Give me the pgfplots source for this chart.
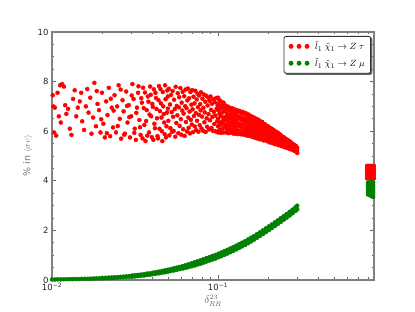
\documentclass[border=0pt]{standalone}
\usepackage{fontspec}
\setmainfont{DejaVu Sans}
\usepackage{pgfplots}
\pgfplotsset{compat=1.18}
\definecolor{mplred}{RGB}{255,0,0}
\definecolor{mplgreen}{RGB}{0,128,0}
\pgfdeclarelayer{background}
\pgfsetlayers{background,main}

\begin{document}
\begin{tikzpicture}
\path[use as bounding box] (-52pt,-32pt) rectangle (363pt,280pt);
\begin{axis}[
  at={(0pt,0pt)}, anchor=south west,
  width=322pt, height=248pt, scale only axis,
  xmode=log, xmin=0.01, xmax=0.87,
  ymin=0, ymax=10,
  xtick={0.01,0.1},
  xticklabels={10\textsuperscript{−2},10\textsuperscript{−1}},
  minor xtick={0.02,0.03,0.04,0.05,0.06,0.07,0.08,0.09,0.2,0.3,0.4,0.5,0.6,0.7,0.8},
  ytick={0,2,4,6,8,10}, minor y tick num=3,
  tick align=inside,
  axis line style={black!50, line width=1.2pt},
  tick style={black!60, line width=0.6pt},
  major tick length=4.5pt, minor tick length=2.5pt,
  tick label style={font=\fontsize{8.5}{10}\selectfont, black!85},
  /pgf/number format/assume math mode=true,
  xlabel={$\delta^{23}_{RR}$},
  ylabel={\% in $\langle\sigma v\rangle$},
  xlabel style={at={(axis description cs:0.5,-0.085)}, anchor=center, black!60, font=\fontsize{10.5}{12}\selectfont},
  ylabel style={at={(axis description cs:-0.075,0.5)}, anchor=center, black!55, font=\fontsize{9.5}{11}\selectfont},
  legend style={name=leg, at={(1,1)}, anchor=north east, xshift=-3pt, yshift=-4pt,
    draw=black!80, line width=0.8pt, rounded corners=2pt, fill=white,
    font=\fontsize{9.5}{11}\selectfont, cells={anchor=west},
    row sep=3pt, inner xsep=4pt, inner ysep=3pt},
  legend image code/.code={%
    \pgfpathrectangle{\pgfpoint{-3pt}{-2pt}}{\pgfpoint{25pt}{4pt}}\pgfusepath{use as bounding box}%
    \draw[#1, /tikz/only marks] plot coordinates {(0pt,0pt) (8pt,0pt) (16pt,0pt)};},
]

\addplot[only marks, mark=*, mark size=2pt, color=mplred] coordinates {
% left, sparse part of the red band
(0.0101,7.45) (0.0102,7.0) (0.0104,6.95) (0.0103,5.95) (0.0106,5.82) (0.0108,7.55)
(0.0112,7.85) (0.0115,7.9) (0.0118,7.8) (0.0113,6.35) (0.0110,6.6) (0.0120,7.05)
(0.0122,6.7) (0.0125,6.9) (0.0128,6.1) (0.0131,5.85) (0.0134,7.3) (0.0137,7.65)
(0.0140,6.6) (0.0143,6.95) (0.0147,7.2) (0.0150,7.55) (0.0152,6.4) (0.0156,6.05)
(0.0160,7.0) (0.0163,7.7) (0.0166,6.75) (0.0170,7.35) (0.0173,5.9) (0.0177,6.55)
(0.0180,7.95) (0.0184,6.2) (0.0188,7.1) (0.0192,6.85) (0.0196,5.95) (0.0200,7.55)
(0.0204,6.3) (0.0208,5.75) (0.0212,7.2) (0.0216,6.65) (0.0220,7.75) (0.0224,5.8)
(0.0229,6.95) (0.0233,6.15) (0.0238,7.45) (0.0243,5.95) (0.0247,7.0) (0.0252,7.85)
(0.0256,6.5) (0.0261,5.7) (0.0266,7.25) (0.0270,6.8) (0.0275,5.9) (0.0280,7.6)
(0.0285,6.35) (0.0290,7.05) (0.0295,5.75) (0.0300,6.6) (0.0305,7.9) (0.0310,7.3)
(0.0315,6.1) (0.0320,5.65) (0.0325,6.95) (0.0330,7.55) (0.0336,6.45) (0.0342,5.85)
(0.0348,7.15) (0.0354,7.75) (0.0360,6.25) (0.0366,5.6) (0.0372,6.85) (0.0378,7.4)
(0.0384,5.95) (0.0390,7.8) (0.0396,6.6) (0.0402,7.1) (0.0408,5.65) (0.0414,6.3)
(0.0420,7.55) (0.0426,6.9) (0.0432,5.8) (0.0438,7.25) (0.0444,6.1) (0.0450,7.7)
(0.0456,6.55) (0.0462,5.6) (0.0468,7.0) (0.0474,6.35) (0.0480,7.85) (0.0486,5.75)
(0.0492,6.75) (0.0498,7.4)
(0.0186,7.62) (0.0198,6.48) (0.0214,5.92) (0.0226,7.31) (0.0235,6.83) (0.0249,6.21)
(0.0259,7.68) (0.0272,5.86) (0.0283,7.02) (0.0292,6.57) (0.0302,7.44) (0.0313,5.93)
(0.0322,6.74) (0.0332,7.81) (0.0339,6.16) (0.0345,7.33) (0.0351,5.71) (0.0357,6.93)
(0.0363,7.56) (0.0369,6.41) (0.0375,5.82) (0.0381,7.19) (0.0387,6.67) (0.0393,7.47)
(0.0399,5.76) (0.0405,6.98) (0.0411,7.69) (0.0417,6.12) (0.0423,7.34) (0.0429,6.52)
(0.0435,5.71) (0.0441,7.82) (0.0447,6.81) (0.0453,7.12) (0.0459,6.0) (0.0465,7.58)
(0.0471,6.69) (0.0477,5.88) (0.0483,7.29) (0.0489,6.2) (0.0495,7.64) (0.0499,6.91)
% middle part
(0.0502,6.42) (0.0506,7.71) (0.0509,5.83) (0.0514,7.08) (0.0517,6.12) (0.0521,7.46)
(0.0526,6.77) (0.0528,5.97) (0.0533,7.62) (0.0536,6.58) (0.0541,6.01) (0.0544,7.27)
(0.0549,6.89) (0.0553,5.78) (0.0556,7.79) (0.0561,6.33) (0.0564,7.02) (0.0569,6.64)
(0.0572,7.53) (0.0577,5.92) (0.0581,6.96) (0.0584,7.37) (0.0588,6.21) (0.0593,7.74)
(0.0597,6.49) (0.0601,5.86) (0.0604,7.15) (0.0609,6.83) (0.0613,7.59) (0.0617,6.08)
(0.0621,6.71) (0.0626,7.41) (0.0629,5.81) (0.0634,7.01) (0.0638,7.68) (0.0641,6.37)
(0.0646,6.93) (0.0650,5.99) (0.0654,7.24) (0.0658,7.72) (0.0662,6.55) (0.0666,6.14)
(0.0670,7.33) (0.0674,6.79) (0.0678,5.91) (0.0682,7.58) (0.0686,6.46) (0.0691,7.07)
(0.0695,6.27) (0.0698,7.66) (0.0703,6.88) (0.0707,5.96) (0.0712,7.39) (0.0716,6.61)
(0.0721,7.12) (0.0725,6.19) (0.0730,7.63) (0.0735,6.73) (0.0739,6.04) (0.0744,7.28)
(0.0748,6.42) (0.0753,7.51) (0.0757,6.97) (0.0762,5.98) (0.0767,6.66) (0.0771,7.44)
(0.0776,6.24) (0.0781,7.09) (0.0786,6.84) (0.0790,7.57) (0.0795,6.11) (0.0801,6.59)
(0.0806,7.31) (0.0811,6.02) (0.0816,6.94) (0.0822,7.48) (0.0827,6.36) (0.0832,6.76)
(0.0838,7.19) (0.0843,5.97) (0.0849,7.43) (0.0854,6.52) (0.0860,6.18) (0.0866,7.04)
(0.0871,7.36) (0.0877,6.69) (0.0883,6.07) (0.0889,7.23) (0.0895,6.44) (0.0901,7.4)
(0.0907,6.86) (0.0913,6.13) (0.0919,7.11) (0.0925,6.58) (0.0932,6.01) (0.0938,7.29)
(0.0944,6.78) (0.0950,6.29) (0.0957,7.17) (0.0963,6.63) (0.0969,5.99) (0.0976,7.34)
(0.0982,6.91) (0.0988,6.4) (0.0994,7.05)
% dense right part
(0.100,5.95) (0.100,6.2) (0.100,6.5) (0.100,6.85) (0.100,7.1) (0.100,7.35)
(0.102,6.05) (0.102,6.35) (0.102,6.7) (0.102,7.0) (0.102,7.25)
(0.104,5.93) (0.104,6.25) (0.104,6.6) (0.104,6.9) (0.104,7.2)
(0.106,6.1) (0.106,6.4) (0.106,6.75) (0.106,7.05)
(0.108,5.95) (0.108,6.3) (0.108,6.55) (0.108,6.95) (0.108,7.15)
(0.110,6.15) (0.110,6.45) (0.110,6.8) (0.110,7.05)
(0.112,5.95) (0.112,6.25) (0.112,6.6) (0.112,6.9)
(0.114,6.05) (0.114,6.4) (0.114,6.7) (0.114,7.0)
(0.116,5.92) (0.116,6.2) (0.116,6.5) (0.116,6.85)
(0.118,6.1) (0.118,6.35) (0.118,6.65) (0.118,6.95)
(0.120,5.95) (0.120,6.25) (0.120,6.55) (0.120,6.8)
(0.122,6.05) (0.122,6.4) (0.122,6.7) (0.122,6.92)
(0.124,5.9) (0.124,6.2) (0.124,6.5) (0.124,6.8)
(0.126,6.0) (0.126,6.3) (0.126,6.6) (0.126,6.88)
(0.128,5.9) (0.128,6.15) (0.128,6.45) (0.128,6.75)
(0.130,6.05) (0.130,6.35) (0.130,6.62) (0.130,6.85)
(0.132,5.88) (0.132,6.2) (0.132,6.5) (0.132,6.78)
(0.135,6.0) (0.135,6.3) (0.135,6.58) (0.135,6.82)
(0.138,5.87) (0.138,6.15) (0.138,6.45) (0.138,6.72)
(0.141,5.98) (0.141,6.27) (0.141,6.55) (0.141,6.78)
(0.144,5.85) (0.144,6.1) (0.144,6.4) (0.144,6.7)
(0.147,5.95) (0.147,6.22) (0.147,6.5) (0.147,6.73)
(0.150,5.82) (0.150,6.08) (0.150,6.35) (0.150,6.62)
(0.153,5.92) (0.153,6.2) (0.153,6.45) (0.153,6.67)
(0.156,5.8) (0.156,6.05) (0.156,6.3) (0.156,6.58)
(0.159,5.88) (0.159,6.15) (0.159,6.4) (0.159,6.6)
(0.162,5.76) (0.162,6.0) (0.162,6.25) (0.162,6.5)
(0.165,5.85) (0.165,6.1) (0.165,6.35) (0.165,6.55)
(0.168,5.73) (0.168,5.97) (0.168,6.2) (0.168,6.47)
(0.171,5.82) (0.171,6.05) (0.171,6.3) (0.171,6.5)
(0.174,5.7) (0.174,5.92) (0.174,6.15) (0.174,6.42)
(0.177,5.78) (0.177,6.0) (0.177,6.25) (0.177,6.44)
(0.180,5.67) (0.180,5.88) (0.180,6.1) (0.180,6.37)
(0.184,5.75) (0.184,5.97) (0.184,6.2) (0.184,6.38)
(0.188,5.63) (0.188,5.85) (0.188,6.06) (0.188,6.3)
(0.192,5.7) (0.192,5.92) (0.192,6.13) (0.192,6.28)
(0.196,5.6) (0.196,5.8) (0.196,6.02) (0.196,6.22)
(0.200,5.66) (0.200,5.87) (0.200,6.07) (0.200,6.2)
(0.204,5.55) (0.204,5.76) (0.204,5.97) (0.204,6.15)
(0.208,5.62) (0.208,5.82) (0.208,6.02) (0.208,6.12)
(0.212,5.52) (0.212,5.72) (0.212,5.92) (0.212,6.08)
(0.216,5.58) (0.216,5.78) (0.216,5.96) (0.216,6.05)
(0.220,5.48) (0.220,5.67) (0.220,5.86) (0.220,6.0)
(0.225,5.54) (0.225,5.73) (0.225,5.9) (0.225,5.97)
(0.230,5.44) (0.230,5.62) (0.230,5.8) (0.230,5.93)
(0.235,5.5) (0.235,5.67) (0.235,5.85) (0.235,5.88)
(0.240,5.4) (0.240,5.57) (0.240,5.74) (0.240,5.83)
(0.245,5.45) (0.245,5.62) (0.245,5.77)
(0.250,5.36) (0.250,5.52) (0.250,5.68) (0.250,5.75)
(0.255,5.41) (0.255,5.57) (0.255,5.7)
(0.260,5.32) (0.260,5.47) (0.260,5.62) (0.260,5.66)
(0.265,5.37) (0.265,5.51) (0.265,5.63)
(0.270,5.28) (0.270,5.42) (0.270,5.56) (0.270,5.59)
(0.275,5.33) (0.275,5.46) (0.275,5.55)
(0.280,5.24) (0.280,5.37) (0.280,5.5)
(0.285,5.28) (0.285,5.4) (0.285,5.47)
(0.290,5.2) (0.290,5.32) (0.290,5.43)
(0.295,5.23) (0.295,5.34) (0.295,5.4)
(0.300,5.12) (0.300,5.22) (0.300,5.33)
% cluster at the right edge
(0.79,4.1) (0.79,4.2) (0.79,4.3) (0.79,4.4) (0.79,4.5) (0.79,4.6)
(0.81,4.1) (0.81,4.2) (0.81,4.3) (0.81,4.4) (0.81,4.5) (0.81,4.6)
(0.83,4.1) (0.83,4.2) (0.83,4.3) (0.83,4.4) (0.83,4.5) (0.83,4.6)
(0.85,4.1) (0.85,4.2) (0.85,4.3) (0.85,4.4) (0.85,4.5) (0.85,4.6)
(0.87,4.1) (0.87,4.2) (0.87,4.3) (0.87,4.4) (0.87,4.5) (0.87,4.6)
};
\addlegendentry{$\tilde{l}_1\;\tilde{\chi}_1\rightarrow Z\;\tau$}

% green band: x, lower edge, upper edge
\addplot[only marks, mark=*, mark size=2pt, color=mplgreen] table[x=x, y=lo] {
x      lo     hi
0.0100 0.02   0.02
0.0104 0.02   0.02
0.0108 0.025  0.025
0.0113 0.025  0.025
0.0118 0.03   0.03
0.0123 0.03   0.03
0.0128 0.035  0.035
0.0133 0.035  0.035
0.0139 0.04   0.04
0.0145 0.04   0.04
0.0151 0.045  0.045
0.0157 0.05   0.05
0.0164 0.05   0.05
0.0171 0.055  0.055
0.0178 0.06   0.06
0.0185 0.065  0.065
0.0193 0.07   0.07
0.0201 0.065  0.085
0.0210 0.07   0.09
0.0219 0.075  0.095
0.0228 0.08   0.10
0.0237 0.09   0.11
0.0247 0.095  0.115
0.0258 0.105  0.125
0.0269 0.115  0.135
0.0280 0.125  0.145
0.0292 0.135  0.155
0.0304 0.13   0.18
0.0317 0.145  0.195
0.0330 0.155  0.205
0.0344 0.17   0.22
0.0359 0.18   0.24
0.0374 0.20   0.26
0.0390 0.215  0.275
0.0406 0.235  0.295
0.0423 0.25   0.32
0.0441 0.27   0.34
0.0460 0.295  0.365
0.0479 0.31   0.39
0.0499 0.335  0.415
0.0520 0.36   0.44
0.0542 0.385  0.475
0.0565 0.41   0.50
0.0589 0.44   0.53
0.0614 0.465  0.565
0.0640 0.49   0.60
0.0667 0.52   0.64
0.0695 0.555  0.675
0.0724 0.585  0.715
0.0754 0.625  0.755
0.0786 0.655  0.795
0.0819 0.70   0.84
0.0853 0.745  0.885
0.0889 0.785  0.925
0.0926 0.825  0.97
0.0965 0.865  1.01
0.1006 0.915  1.06
0.1048 0.96   1.11
0.1092 1.015  1.165
0.1138 1.065  1.215
0.1186 1.12   1.27
0.1236 1.175  1.325
0.1288 1.235  1.385
0.1342 1.295  1.445
0.1398 1.355  1.505
0.1457 1.415  1.565
0.1518 1.485  1.635
0.1582 1.555  1.705
0.1648 1.625  1.775
0.1717 1.70   1.85
0.1789 1.775  1.925
0.1864 1.85   2.0
0.1942 1.93   2.08
0.2024 2.01   2.16
0.2109 2.09   2.24
0.2198 2.175  2.325
0.2290 2.255  2.405
0.2386 2.34   2.49
0.2486 2.425  2.575
0.2590 2.51   2.66
0.2699 2.60   2.75
0.2812 2.69   2.84
0.2930 2.785  2.935
0.3000 2.845  2.995
};
\addlegendentry{$\tilde{l}_1\;\tilde{\chi}_1\rightarrow Z\;\mu$}

\addplot[only marks, mark=*, mark size=2pt, color=mplgreen, forget plot] table[x=x, y=hi] {
x      lo     hi
0.0201 0.065  0.085
0.0210 0.07   0.09
0.0219 0.075  0.095
0.0228 0.08   0.10
0.0237 0.09   0.11
0.0247 0.095  0.115
0.0258 0.105  0.125
0.0269 0.115  0.135
0.0280 0.125  0.145
0.0292 0.135  0.155
0.0304 0.13   0.18
0.0317 0.145  0.195
0.0330 0.155  0.205
0.0344 0.17   0.22
0.0359 0.18   0.24
0.0374 0.20   0.26
0.0390 0.215  0.275
0.0406 0.235  0.295
0.0423 0.25   0.32
0.0441 0.27   0.34
0.0460 0.295  0.365
0.0479 0.31   0.39
0.0499 0.335  0.415
0.0520 0.36   0.44
0.0542 0.385  0.475
0.0565 0.41   0.50
0.0589 0.44   0.53
0.0614 0.465  0.565
0.0640 0.49   0.60
0.0667 0.52   0.64
0.0695 0.555  0.675
0.0724 0.585  0.715
0.0754 0.625  0.755
0.0786 0.655  0.795
0.0819 0.70   0.84
0.0853 0.745  0.885
0.0889 0.785  0.925
0.0926 0.825  0.97
0.0965 0.865  1.01
0.1006 0.915  1.06
0.1048 0.96   1.11
0.1092 1.015  1.165
0.1138 1.065  1.215
0.1186 1.12   1.27
0.1236 1.175  1.325
0.1288 1.235  1.385
0.1342 1.295  1.445
0.1398 1.355  1.505
0.1457 1.415  1.565
0.1518 1.485  1.635
0.1582 1.555  1.705
0.1648 1.625  1.775
0.1717 1.70   1.85
0.1789 1.775  1.925
0.1864 1.85   2.0
0.1942 1.93   2.08
0.2024 2.01   2.16
0.2109 2.09   2.24
0.2198 2.175  2.325
0.2290 2.255  2.405
0.2386 2.34   2.49
0.2486 2.425  2.575
0.2590 2.51   2.66
0.2699 2.60   2.75
0.2812 2.69   2.84
0.2930 2.785  2.935
0.3000 2.845  2.995
};

% green cluster at the right edge
\addplot[only marks, mark=*, mark size=2pt, color=mplgreen, forget plot] coordinates {
(0.80,3.45) (0.80,3.55) (0.80,3.65) (0.80,3.75) (0.80,3.85) (0.80,3.93)
(0.82,3.42) (0.82,3.52) (0.82,3.62) (0.82,3.72) (0.82,3.82) (0.82,3.93)
(0.84,3.38) (0.84,3.48) (0.84,3.58) (0.84,3.68) (0.84,3.78) (0.84,3.88) (0.84,3.94)
(0.86,3.35) (0.86,3.45) (0.86,3.55) (0.86,3.65) (0.86,3.75) (0.86,3.85) (0.86,3.94)
(0.88,3.33) (0.88,3.43) (0.88,3.53) (0.88,3.63) (0.88,3.73) (0.88,3.83) (0.88,3.94)
};
\end{axis}
\begin{pgfonlayer}{background}
\fill[black!60, rounded corners=2pt] ([shift={(1.3pt,-1.3pt)}]leg.south west) rectangle ([shift={(1.3pt,-1.3pt)}]leg.north east);
\end{pgfonlayer}
\end{tikzpicture}
\end{document}
